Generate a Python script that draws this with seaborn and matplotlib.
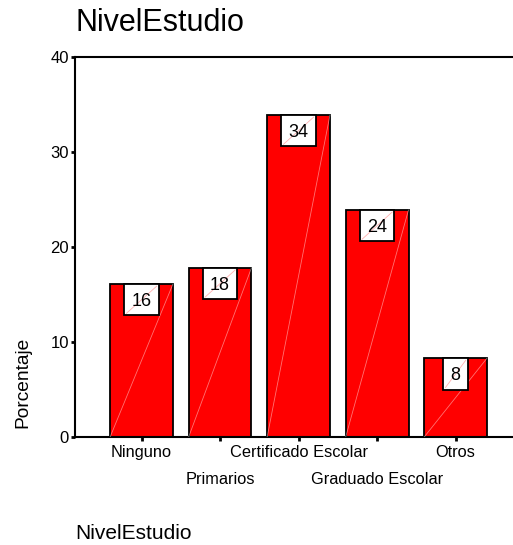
import matplotlib
matplotlib.use("Agg")
import matplotlib.pyplot as plt
from matplotlib.lines import Line2D
import matplotlib.transforms as mtransforms
import seaborn as sns
import pandas as pd

# Distribution of education level (percent of respondents)
categorias = ["Ninguno", "Primarios", "Certificado Escolar", "Graduado Escolar", "Otros"]
porcentajes = [16.1, 17.8, 33.9, 23.9, 8.3]
etiquetas = ["16", "18", "34", "24", "8"]
yticks = [0, 10, 20, 30, 40]

df = pd.DataFrame({"NivelEstudio": categorias, "Porcentaje": porcentajes})

sns.set_theme(style="white")
plt.rcParams["font.family"] = ["Liberation Sans", "DejaVu Sans"]
plt.rcParams.update({"text.color": "black", "axes.labelcolor": "black",
                     "xtick.color": "black", "ytick.color": "black"})

W, H = 513, 545
fig = plt.figure(figsize=(W / 100, H / 100), dpi=100)
ax = fig.add_axes([75 / W, (H - 437) / H, (W - 75) / W + 0.01, (437 - 57) / H])

sns.barplot(data=df, x="NivelEstudio", y="Porcentaje", order=categorias,
            color="#ff0000", saturation=1, width=0.8,
            edgecolor="black", linewidth=1.3, ax=ax)

ax.set_xlim(-0.847, 4.73 + 0.066)
ax.set_ylim(0, 40)
ax.set_yticks(yticks)
ax.set_yticklabels([str(v) for v in yticks], fontsize=12)

for side in ("left", "bottom", "top"):
    ax.spines[side].set_visible(True)
    ax.spines[side].set_color("black")
    ax.spines[side].set_linewidth(1.5)
ax.spines["right"].set_visible(False)

ax.tick_params(axis="y", direction="out", length=3, width=2, pad=1.5,
               colors="black", left=True)
ax.tick_params(axis="x", direction="out", length=3, width=2, colors="black",
               bottom=True, labelbottom=False)
ax.set_xlabel("")
ax.set_ylabel("")

# faint seam across each bar, bottom-left to top-right
for p in ax.patches:
    x0 = p.get_x()
    x1 = x0 + p.get_width()
    h = p.get_height()
    ax.add_line(Line2D([x0, x1], [0, h], color="white", lw=0.6, alpha=0.45, zorder=3))

# staggered category labels
trans = mtransforms.blended_transform_factory(ax.transData, ax.transAxes)
for i, cat in enumerate(categorias):
    off = -6 if i % 2 == 0 else -25.5
    ax.annotate(cat, xy=(i, 0), xycoords=trans, xytext=(0, off),
                textcoords="offset points", ha="center", va="top", fontsize=11.8)

# value boxes hanging from the top of each bar
box_style = dict(boxstyle="square,pad=0.4", fc="white", ec="black", lw=1.3)
boxes = []
for i, (v, lab) in enumerate(zip(porcentajes, etiquetas)):
    common = dict(xy=(i, v), textcoords="offset points",
                  ha="center", va="top", fontsize=13)
    frame = ax.annotate(lab, xytext=(0, -5.2), color="none", bbox=box_style,
                        zorder=5, **common)
    ax.annotate(lab, xytext=(0, -6.2), color="black", zorder=7, **common)
    boxes.append(frame)

fig.text(75 / W, 1 - 31 / H, "NivelEstudio", fontsize=22, ha="left", va="baseline")
fig.text(75 / W, 1 - 539 / H, "NivelEstudio", fontsize=15, ha="left", va="baseline")
fig.text(23 / W, 1 - 382 / H, "Porcentaje", fontsize=13.8, rotation=90,
         ha="center", va="center")

# thin diagonal inside each value box, under the number
fig.canvas.draw()
renderer = fig.canvas.get_renderer()
for t in boxes:
    bb = t.get_bbox_patch().get_window_extent(renderer)
    ax.add_artist(Line2D([bb.x0 + 2, bb.x1 - 2], [bb.y0 + 2, bb.y1 - 2],
                         transform=mtransforms.IdentityTransform(),
                         color="#ffb0b0", lw=0.6, zorder=6))

fig.savefig("out.png", dpi=100)
